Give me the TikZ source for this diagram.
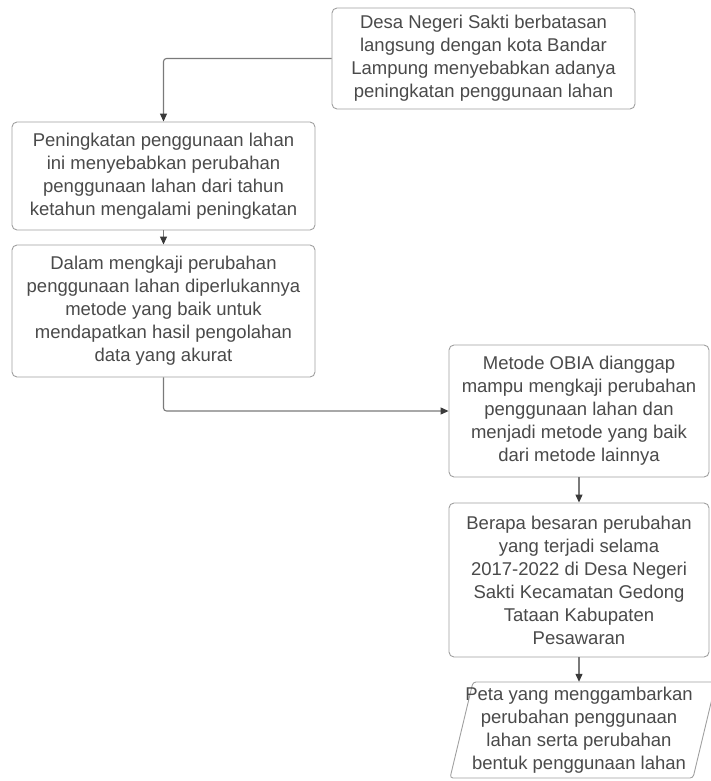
\documentclass[tikz,border=0pt]{standalone}
\usepackage{fontspec}
\setmainfont{Liberation Sans}
\usetikzlibrary{arrows.meta}
\definecolor{boxline}{HTML}{A0A0A0}
\definecolor{conn}{HTML}{7A7A7A}
\definecolor{tipc}{HTML}{3A3A3A}
\definecolor{txt}{HTML}{4A4A4A}
\begin{document}
\begin{tikzpicture}[x=1pt,y=-1pt,
  flowbox/.style={draw=boxline, line width=0.9pt, rounded corners=5pt, fill=white,
    align=center, text=txt, inner sep=0pt,
    font=\fontsize{18.5}{23}\selectfont},
  conline/.style={draw=conn, line width=1.1pt, rounded corners=3pt,
    -{Triangle[length=8pt,width=7pt,fill=tipc,color=tipc]}}]
\useasboundingbox (0,0) rectangle (710,781);
\node[flowbox, minimum width=303pt, minimum height=101pt] (b1) at (483.5,58.5)
  {Desa Negeri Sakti berbatasan\\langsung dengan kota Bandar\\Lampung menyebabkan adanya\\peningkatan penggunaan lahan};
\node[flowbox, minimum width=303pt, minimum height=108pt] (b2) at (163.5,176)
  {Peningkatan penggunaan lahan\\ini menyebabkan perubahan\\penggunaan lahan dari tahun\\ketahun mengalami peningkatan};
\node[flowbox, minimum width=303pt, minimum height=132pt] (b3) at (163.5,311)
  {Dalam mengkaji perubahan\\penggunaan lahan diperlukannya\\metode yang baik untuk\\mendapatkan hasil pengolahan\\data yang akurat};
\node[flowbox, minimum width=260pt, minimum height=132pt] (b4) at (579,411)
  {Metode OBIA dianggap\\mampu mengkaji perubahan\\penggunaan lahan dan\\menjadi metode yang baik\\dari metode lainnya};
\node[flowbox, minimum width=260pt, minimum height=154pt] (b5) at (579,580)
  {Berapa besaran perubahan\\yang terjadi selama\\2017-2022 di Desa Negeri\\Sakti Kecamatan Gedong\\Tataan Kabupaten\\Pesawaran};
\draw[boxline, line width=0.9pt, fill=white, rounded corners=3pt]
  (473,682) -- (716,682) -- (693,778) -- (450,778) -- cycle;
\node[align=center, text=txt, inner sep=0pt, minimum height=96pt,
  font=\fontsize{18.5}{23}\selectfont] (p) at (579,730)
  {Peta yang menggambarkan\\perubahan penggunaan\\lahan serta perubahan\\bentuk penggunaan lahan};
\draw[conline] (b1.west) -| (b2.north);
\draw[conline] (b2.south) -- (b3.north);
\draw[conline] (b3.south) |- (b4.west);
\draw[conline] (b4.south) -- (b5.north);
\draw[conline] (b5.south) -- (p.north);
\end{tikzpicture}
\end{document}
